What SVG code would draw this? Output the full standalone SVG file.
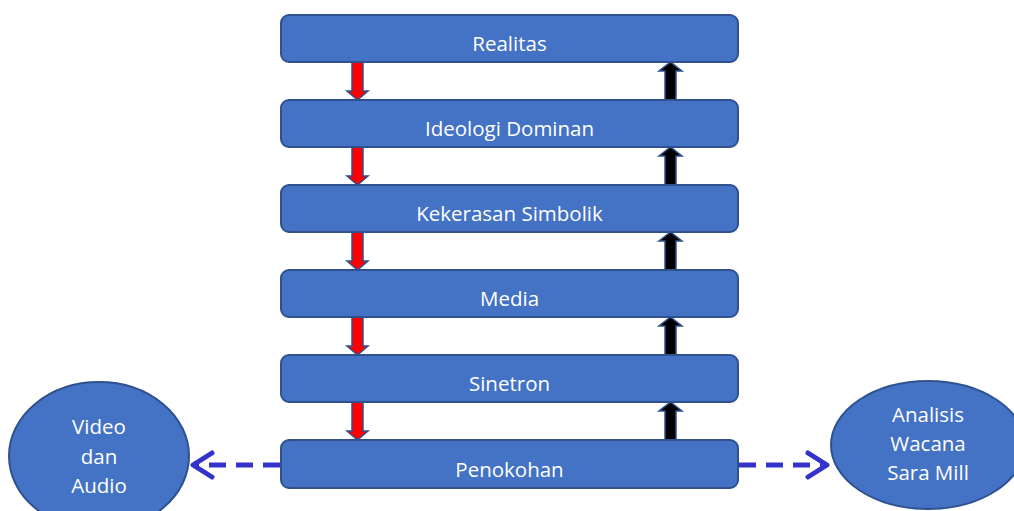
<svg xmlns="http://www.w3.org/2000/svg" width="1014" height="511" viewBox="0 0 1014 511">
<style>
.box{fill:#4472C4;stroke:#2F528F;stroke-width:2}
.t{font-family:"Open Sans","Liberation Sans",Arial,sans-serif;font-size:20.5px;fill:#fff;text-anchor:middle}
.red{fill:#FF0000;stroke:#2F528F;stroke-width:1.5}
.blk{fill:#000;stroke:#2F528F;stroke-width:1.5}
.dash{fill:none;stroke:#3333CC;stroke-width:5;stroke-dasharray:17,10}
.head{fill:none;stroke:#3333CC;stroke-width:5;stroke-linecap:round;stroke-linejoin:round}
</style>
<rect width="1014" height="511" fill="#fff"/>
<g id="connectors">
<polygon class="red" points="352,62 363,62 363,91 368,91 357.5,100 347,91 352,91"/>
<polygon class="red" points="352,147 363,147 363,176 368,176 357.5,185 347,176 352,176"/>
<polygon class="red" points="352,232 363,232 363,261 368,261 357.5,270 347,261 352,261"/>
<polygon class="red" points="352,317 363,317 363,346 368,346 357.5,355 347,346 352,346"/>
<polygon class="red" points="352,402 363,402 363,431 368,431 357.5,440 347,431 352,431"/>
<polygon class="blk" points="665,100 676,100 676,71 682,71 670.5,62 659,71 665,71"/>
<polygon class="blk" points="665,185 676,185 676,156 682,156 670.5,147 659,156 665,156"/>
<polygon class="blk" points="665,270 676,270 676,241 682,241 670.5,232 659,241 665,241"/>
<polygon class="blk" points="665,355 676,355 676,326 682,326 670.5,317 659,326 665,326"/>
<polygon class="blk" points="665,440 676,440 676,411 682,411 670.5,402 659,411 665,411"/>
<line class="dash" x1="280" y1="465" x2="196" y2="465"/>
<polyline class="head" points="212,453 193,465 212,477"/>
<line class="dash" x1="739" y1="465" x2="822" y2="465"/>
<polyline class="head" points="808,453 827,465 808,477"/>
</g>
<g id="realitas"><rect class="box" x="281" y="15" width="457" height="47" rx="8"/><text class="t" x="509.5" y="51">Realitas</text></g>
<g id="ideologi"><rect class="box" x="281" y="100" width="457" height="47" rx="8"/><text class="t" x="509.5" y="136">Ideologi Dominan</text></g>
<g id="kekerasan"><rect class="box" x="281" y="185" width="457" height="47" rx="8"/><text class="t" x="509.5" y="221">Kekerasan Simbolik</text></g>
<g id="media"><rect class="box" x="281" y="270" width="457" height="47" rx="8"/><text class="t" x="509.5" y="306">Media</text></g>
<g id="sinetron"><rect class="box" x="281" y="355" width="457" height="47" rx="8"/><text class="t" x="509.5" y="391">Sinetron</text></g>
<g id="penokohan"><rect class="box" x="281" y="440" width="457" height="48" rx="8"/><text class="t" x="509.5" y="477">Penokohan</text></g>
<g id="video"><ellipse class="box" cx="99" cy="456" rx="90" ry="74"/><text class="t" x="99" y="434">Video</text><text class="t" x="99" y="464">dan</text><text class="t" x="99" y="493">Audio</text></g>
<g id="analisis"><ellipse class="box" cx="928" cy="445" rx="97" ry="64"/><text class="t" x="928" y="422">Analisis</text><text class="t" x="928" y="451">Wacana</text><text class="t" x="928" y="480">Sara Mill</text></g>
</svg>
